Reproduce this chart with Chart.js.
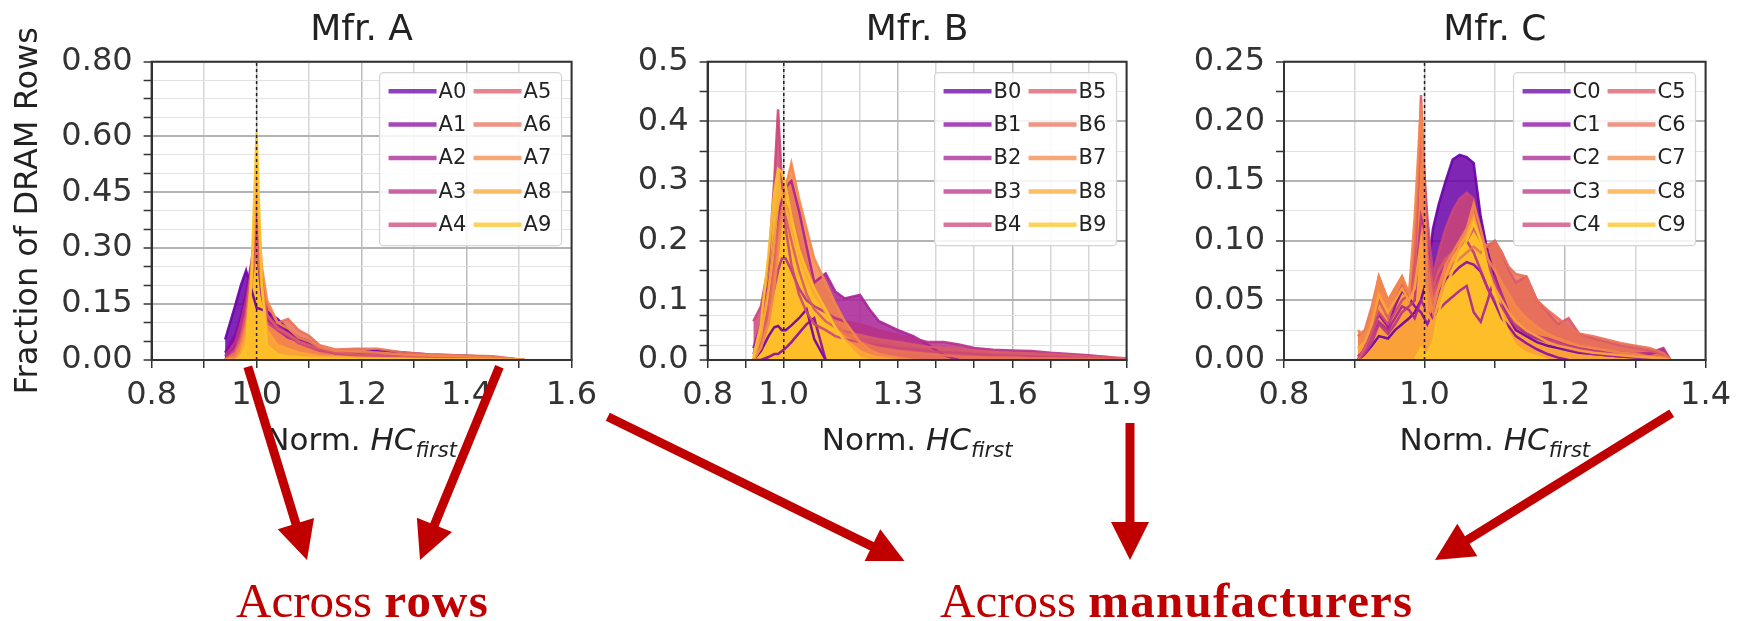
<!DOCTYPE html>
<html>
<head>
<meta charset="utf-8">
<title>Norm. HC_first distributions</title>
<script src="https://cdn.jsdelivr.net/npm/chart.js@4.4.1/dist/chart.umd.min.js"></script>
<style>
  body { margin: 0; background: #fff; }
  #wrap { position: relative; width: 1739px; height: 621px; overflow: hidden; background: #fff; }
  #wrap canvas { position: absolute; top: 0; }
  #arrows { position: absolute; left: 0; top: 0; }
  .note { position: absolute; top: 576px; font-family: "Liberation Serif", serif; font-size: 49px; line-height: 49px; color: #c00000; white-space: nowrap; }
  .note b { font-weight: bold; letter-spacing: 1.2px; }
</style>
</head>
<body>
<div id="wrap">
  <canvas id="mfrA" width="605" height="470" style="left:0px"></canvas>
  <canvas id="mfrB" width="600" height="470" style="left:560px"></canvas>
  <canvas id="mfrC" width="599" height="470" style="left:1140px"></canvas>
  <svg id="arrows" width="1739" height="621"></svg>
  <div class="note" style="left:236px">Across <b>rows</b></div>
  <div class="note" style="left:940px">Across <b>manufacturers</b></div>
</div>
<script>
// plasma colours, one per module (0 = darkest)
const seriesColors = ['#6a00a8', '#8b0aa5', '#a82296', '#b93289', '#cc4778',
                      '#da5b69', '#e97158', '#f48849', '#fca636', '#fdc328'];

// ---- Mfr. A ----
const xA = [0.94, 0.96, 0.97, 0.98, 0.99, 1.00, 1.01, 1.02, 1.04, 1.06, 1.08,
            1.10, 1.12, 1.15, 1.19, 1.23, 1.28, 1.33, 1.39, 1.45, 1.51];
const mfrA = [
  [0.055, 0.15, 0.20, 0.24, 0.19, 0.14, 0.135, 0.13, 0.11, 0.08, 0.06, 0.05, 0.03, 0.02, 0.018, 0.025, 0.02, 0.015, 0.012, 0.008, 0],
  [0.02, 0.07, 0.12, 0.18, 0.26, 0.37, 0.2, 0.13, 0.095, 0.075, 0.055, 0.045, 0.035, 0.022, 0.016, 0.02, 0.014, 0.012, 0.01, 0.006, 0],
  [0, 0.04, 0.08, 0.14, 0.22, 0.3, 0.17, 0.11, 0.08, 0.06, 0.05, 0.04, 0.028, 0.018, 0.015, 0.016, 0.012, 0.01, 0.008, 0.005, 0],
  [0.01, 0.05, 0.1, 0.16, 0.24, 0.33, 0.19, 0.12, 0.09, 0.07, 0.05, 0.04, 0.03, 0.02, 0.014, 0.014, 0.012, 0.008, 0.006, 0.004, 0],
  [0, 0.03, 0.07, 0.13, 0.22, 0.35, 0.18, 0.1, 0.08, 0.065, 0.045, 0.035, 0.025, 0.018, 0.012, 0.012, 0.01, 0.008, 0.005, 0.003, 0],
  [0, 0.02, 0.06, 0.12, 0.25, 0.38, 0.22, 0.12, 0.085, 0.07, 0.05, 0.04, 0.03, 0.02, 0.015, 0.014, 0.011, 0.008, 0.006, 0.004, 0],
  [0, 0.02, 0.05, 0.1, 0.2, 0.3, 0.2, 0.15, 0.1, 0.11, 0.08, 0.065, 0.04, 0.028, 0.03, 0.03, 0.02, 0.015, 0.012, 0.01, 0],
  [0, 0.01, 0.04, 0.09, 0.22, 0.45, 0.25, 0.16, 0.1, 0.085, 0.06, 0.05, 0.035, 0.025, 0.022, 0.02, 0.015, 0.012, 0.01, 0.006, 0],
  [0, 0, 0.02, 0.07, 0.2, 0.52, 0.2, 0.08, 0.04, 0.03, 0.02, 0.015, 0.01, 0.008, 0.006, 0.005, 0.004, 0.003, 0.002, 0.001, 0],
  [0, 0, 0.01, 0.04, 0.22, 0.61, 0.2, 0.04, 0.015, 0.01, 0.008, 0.006, 0.005, 0.004, 0.003, 0.002, 0.002, 0.001, 0.001, 0, 0]
];
const xMajorA = [0.8, 1.0, 1.2, 1.4, 1.6];
const xMinorA = [0.9, 1.1, 1.3, 1.5];
const yMajorA = [0, 0.15, 0.3, 0.45, 0.6, 0.8];
const yMinorA = [0.05, 0.1, 0.2, 0.25, 0.35, 0.4, 0.5, 0.55, 0.65, 0.7, 0.75];

// ---- Mfr. B ----
const xB = [0.92, 0.94, 0.96, 0.975, 0.985, 0.995, 1.005, 1.02, 1.04, 1.06, 1.08,
            1.11, 1.135, 1.16, 1.2, 1.225, 1.25, 1.3, 1.34, 1.38, 1.42, 1.46,
            1.5, 1.55, 1.6, 1.65, 1.7, 1.75, 1.8, 1.85, 1.9];
const mfrB = [
  [0, 0.015, 0.04, 0.055, 0.057, 0.05, 0.05, 0.058, 0.07, 0.085, 0.035, 0],
  [0, 0, 0.005, 0.01, 0.01, 0.015, 0.02, 0.03, 0.045, 0.06, 0.07, 0],
  [0.02, 0.06, 0.13, 0.2, 0.24, 0.27, 0.29, 0.3, 0.25, 0.19, 0.13, 0.145, 0.115, 0.103, 0.109, 0.085, 0.065, 0.05, 0.04, 0.025, 0.008, 0],
  [0.01, 0.04, 0.08, 0.12, 0.15, 0.17, 0.17, 0.15, 0.12, 0.1, 0.09, 0.08, 0.07, 0.065, 0.06, 0.055, 0.05, 0.042, 0.036, 0.03, 0.03, 0.026, 0.02, 0.017, 0.016, 0.015, 0.012, 0.01, 0.008, 0.005, 0],
  [0.065, 0.09, 0.16, 0.3, 0.42, 0.3, 0.22, 0.16, 0.11, 0.08, 0.06, 0.05, 0.04, 0.035, 0.03, 0.027, 0.025, 0.02, 0.018, 0.015, 0.013, 0.012, 0.01, 0.008, 0.007, 0.006, 0.005, 0.004, 0.003, 0.002, 0],
  [0, 0.03, 0.09, 0.16, 0.22, 0.25, 0.24, 0.2, 0.15, 0.11, 0.085, 0.065, 0.055, 0.048, 0.042, 0.038, 0.035, 0.03, 0.026, 0.022, 0.02, 0.018, 0.016, 0.014, 0.012, 0.011, 0.01, 0.008, 0.006, 0.005, 0.003],
  [0, 0.02, 0.07, 0.14, 0.2, 0.24, 0.26, 0.24, 0.2, 0.16, 0.12, 0.085, 0.06, 0.045, 0.03, 0.025, 0.02, 0.015, 0.012, 0.01, 0.008, 0.006, 0.005, 0.004, 0.004, 0.003, 0.003, 0.002, 0.002, 0.001, 0],
  [0, 0.02, 0.06, 0.12, 0.18, 0.24, 0.29, 0.33, 0.27, 0.22, 0.17, 0.13, 0.095, 0.065, 0.03, 0.018, 0.01, 0.004, 0],
  [0, 0.04, 0.12, 0.2, 0.26, 0.28, 0.26, 0.22, 0.18, 0.14, 0.11, 0.08, 0.055, 0.035, 0.015, 0.008, 0.004, 0],
  [0.005, 0.06, 0.18, 0.28, 0.32, 0.315, 0.29, 0.24, 0.185, 0.15, 0.12, 0.085, 0.055, 0.03, 0.003, 0]
];
const xMajorB = [0.8, 1.0, 1.3, 1.6, 1.9];
const xMinorB = [0.9, 1.1, 1.2, 1.4, 1.5, 1.7, 1.8];
const yMajorB = [0, 0.1, 0.2, 0.3, 0.4, 0.5];
const yMinorB = [0.025, 0.05, 0.075, 0.15, 0.25, 0.35, 0.45];

// ---- Mfr. C ----
const xC = [0.905, 0.915, 0.925, 0.935, 0.948, 0.958, 0.968, 0.978, 0.986, 0.995,
            1.004, 1.012, 1.02, 1.03, 1.04, 1.05, 1.06, 1.07, 1.08, 1.09, 1.1,
            1.11, 1.12, 1.13, 1.145, 1.16, 1.175, 1.19, 1.205, 1.22, 1.24, 1.26,
            1.28, 1.3, 1.32, 1.34, 1.35];
const mfrC = [
  [0, 0.005, 0.012, 0.02, 0.018, 0.025, 0.03, 0.035, 0.04, 0.05, 0.07, 0.11, 0.13, 0.15, 0.168, 0.172, 0.17, 0.165, 0.12, 0.09, 0.07, 0.05, 0.035, 0.025, 0.02, 0.015, 0.012, 0.01, 0.008, 0.006, 0.005, 0.004, 0.003, 0.002, 0.002, 0.001, 0],
  [0, 0.01, 0.025, 0.038, 0.028, 0.045, 0.058, 0.052, 0.045, 0.04, 0.03, 0.04, 0.055, 0.068, 0.072, 0.078, 0.082, 0.08, 0.074, 0.06, 0.048, 0.035, 0.028, 0.02, 0.014, 0.009, 0.005, 0.002, 0],
  [0.003, 0.008, 0.02, 0.032, 0.025, 0.035, 0.045, 0.042, 0.035, 0.05, 0.04, 0.035, 0.042, 0.048, 0.053, 0.058, 0.062, 0.04, 0.032, 0.05, 0.07, 0.055, 0.04, 0.03, 0.022, 0.018, 0.015, 0.012, 0.009, 0.007, 0.005, 0.004, 0.003, 0.003, 0.005, 0.008, 0],
  [0, 0.005, 0.015, 0.03, 0.022, 0.03, 0.04, 0.045, 0.05, 0.12, 0.1, 0.06, 0.07, 0.08, 0.09, 0.095, 0.1, 0.09, 0.075, 0.06, 0.05, 0.045, 0.035, 0.028, 0.022, 0.02, 0.018, 0.015, 0.012, 0.01, 0.008, 0.007, 0.006, 0.005, 0.006, 0.01, 0],
  [0, 0.008, 0.02, 0.04, 0.03, 0.04, 0.05, 0.055, 0.08, 0.2, 0.12, 0.07, 0.09, 0.11, 0.125, 0.135, 0.14, 0.135, 0.1, 0.08, 0.065, 0.05, 0.04, 0.03, 0.025, 0.02, 0.017, 0.014, 0.011, 0.009, 0.007, 0.005, 0.004, 0.003, 0.002, 0.001, 0],
  [0, 0.01, 0.025, 0.05, 0.035, 0.05, 0.062, 0.05, 0.07, 0.222, 0.09, 0.06, 0.075, 0.085, 0.09, 0.095, 0.1, 0.11, 0.1, 0.095, 0.1, 0.09, 0.075, 0.065, 0.07, 0.05, 0.04, 0.03, 0.035, 0.022, 0.018, 0.015, 0.012, 0.01, 0.008, 0.005, 0],
  [0.02, 0.025, 0.045, 0.07, 0.05, 0.06, 0.07, 0.055, 0.1, 0.2, 0.08, 0.05, 0.06, 0.07, 0.08, 0.085, 0.09, 0.095, 0.09, 0.097, 0.099, 0.09, 0.078, 0.072, 0.07, 0.05, 0.042, 0.035, 0.028, 0.022, 0.02, 0.017, 0.014, 0.012, 0.01, 0.006, 0],
  [0.025, 0.02, 0.04, 0.07, 0.05, 0.06, 0.07, 0.056, 0.12, 0.215, 0.06, 0.04, 0.06, 0.08, 0.09, 0.1, 0.11, 0.131, 0.11, 0.085, 0.075, 0.065, 0.055, 0.045, 0.035, 0.028, 0.022, 0.018, 0.015, 0.012, 0.01, 0.008, 0.006, 0.005, 0.003, 0.002, 0],
  [0.01, 0.015, 0.03, 0.055, 0.04, 0.05, 0.06, 0.05, 0.06, 0.1, 0.04, 0.03, 0.05, 0.07, 0.085, 0.095, 0.105, 0.12, 0.1, 0.075, 0.06, 0.05, 0.04, 0.032, 0.025, 0.02, 0.015, 0.012, 0.01, 0.008, 0.006, 0.005, 0.004, 0.003, 0.002, 0.001, 0],
  [0, 0, 0, 0, 0, 0, 0, 0, 0, 0.01, 0.005, 0.015, 0.04, 0.06, 0.075, 0.09, 0.1, 0.115, 0.1, 0.075, 0.055, 0.038, 0.022, 0.012, 0.006, 0.003, 0]
];
const xMajorC = [0.8, 1.0, 1.2, 1.4];
const xMinorC = [0.9, 1.1, 1.3];
const yMajorC = [0, 0.05, 0.1, 0.15, 0.2, 0.25];
const yMinorC = [0.025, 0.075, 0.125, 0.175, 0.225];

// arrow shafts: start x, start y, tip x, tip y (page pixels)
const arrowPaths = [
  [247.8, 366.7, 307, 560],
  [499.4, 366.7, 420, 560],
  [607.8, 416.7, 906, 563],
  [1130, 423, 1130, 560],
  [1671.7, 413.3, 1435, 560]
];

Chart.defaults.font.family = '"DejaVu Sans", sans-serif';
Chart.defaults.color = '#333';

function rgba(hex, a) {
  const n = parseInt(hex.slice(1), 16);
  return 'rgba(' + (n >> 16) + ',' + ((n >> 8) & 255) + ',' + (n & 255) + ',' + a + ')';
}

// axes frame, two-column legend and the x label with italic subscript
const framePlugin = {
  id: 'frameAndLegend',
  afterDraw(chart) {
    const ctx = chart.ctx;
    const a = chart.chartArea;
    ctx.save();
    ctx.strokeStyle = '#333';
    ctx.lineWidth = 2;
    ctx.strokeRect(a.left, a.top, a.right - a.left, a.bottom - a.top);

    const bw = 182, bh = 173;
    const bx = a.right - 10 - bw, by = a.top + 11;
    ctx.beginPath();
    ctx.roundRect(bx, by, bw, bh, 4);
    ctx.fillStyle = 'rgba(255,255,255,0.85)';
    ctx.fill();
    ctx.strokeStyle = '#d4d4d4';
    ctx.lineWidth = 1.2;
    ctx.stroke();
    ctx.font = '21px "DejaVu Sans"';
    ctx.textBaseline = 'middle';
    ctx.textAlign = 'left';
    chart.data.datasets.forEach(function (ds, i) {
      if (ds.guide) return;
      const col = Math.floor(i / 5), row = i % 5;
      const x0 = bx + 9 + col * 85, y0 = by + 18.5 + row * 33.4;
      ctx.strokeStyle = rgba(seriesColors[i], 0.75);
      ctx.lineWidth = 4.5;
      ctx.beginPath();
      ctx.moveTo(x0, y0);
      ctx.lineTo(x0 + 48, y0);
      ctx.stroke();
      ctx.fillStyle = '#222';
      ctx.fillText(ds.label, x0 + 50, y0 + 1);
    });

    // "Norm. HC_first"
    const f1 = '31px "DejaVu Sans"', f2 = 'italic 31px "DejaVu Sans"', f3 = 'italic 21px "DejaVu Sans"';
    ctx.textBaseline = 'alphabetic';
    ctx.font = f1; const w1 = ctx.measureText('Norm. ').width;
    ctx.font = f2; const w2 = ctx.measureText('HC').width;
    ctx.font = f3; const w3 = ctx.measureText('first').width;
    let x = (a.left + a.right) / 2 - (w1 + w2 + w3) / 2;
    ctx.fillStyle = '#222';
    ctx.font = f1; ctx.fillText('Norm. ', x, 450); x += w1;
    ctx.font = f2; ctx.fillText('HC', x, 450); x += w2;
    ctx.font = f3; ctx.fillText('first', x, 457);
    ctx.restore();
  }
};

function makePanel(opts) {
  const xTicks = opts.xMajor.concat(opts.xMinor).sort((p, q) => p - q);
  const yTicks = opts.yMajor.concat(opts.yMinor).sort((p, q) => p - q);

  const datasets = opts.series.map(function (s, i) {
    return {
      label: opts.prefix + i,
      data: s.map((y, j) => ({ x: opts.xs[j], y: y })),
      borderColor: rgba(seriesColors[i], 0.9),
      backgroundColor: rgba(seriesColors[i], 0.85),
      borderWidth: 2.5,
      fill: 'origin',
      pointRadius: 0,
      tension: 0,
      order: 20 - i
    };
  });
  // dashed reference line at 1.0
  datasets.push({
    label: 'ref',
    guide: true,
    data: [{ x: 1, y: 0 }, { x: 1, y: opts.yMax }],
    borderColor: '#222',
    borderWidth: 1.5,
    borderDash: [3, 3],
    fill: false,
    pointRadius: 0,
    order: 0
  });

  const gridColor = (major, minor, list) => function (c) {
    if (!c.tick) return major;
    return list.includes(c.tick.value) ? major : minor;
  };

  return new Chart(document.getElementById(opts.id), {
    type: 'line',
    data: { datasets: datasets },
    plugins: [framePlugin],
    options: {
      responsive: false,
      animation: false,
      events: [],
      layout: { padding: { left: 0, right: opts.padRight, top: 0, bottom: 0 } },
      plugins: {
        legend: { display: false },
        tooltip: { enabled: false },
        filler: { drawTime: 'beforeDatasetsDraw' },
        title: {
          display: true,
          text: opts.title,
          fullSize: false,
          color: '#222',
          font: { size: 36, weight: 'normal' },
          padding: { top: 9, bottom: 9.5 }
        }
      },
      scales: {
        x: {
          type: 'linear',
          min: 0.8,
          max: opts.xMax,
          afterBuildTicks: s => { s.ticks = xTicks.map(v => ({ value: v })); },
          afterFit: s => { s.height = 110; },
          ticks: {
            autoSkip: false, maxRotation: 0, minRotation: 0,
            padding: 8, color: '#333', font: { size: 32 },
            callback: v => opts.xMajor.includes(v) ? v.toFixed(1) : ''
          },
          grid: {
            color: gridColor('#bdbdbd', '#d6d6d6', opts.xMajor),
            lineWidth: 1.5,
            tickLength: 8,
            tickColor: '#333',
            tickWidth: 1.5
          },
          border: { display: true, color: '#333', width: 2 }
        },
        y: {
          min: 0,
          max: opts.yMax,
          afterBuildTicks: s => { s.ticks = yTicks.map(v => ({ value: v })); },
          afterFit: s => { s.width = opts.yWidth; },
          ticks: {
            autoSkip: false, padding: 11, color: '#333', font: { size: 32 },
            callback: v => opts.yMajor.includes(v) ? v.toFixed(opts.yDigits) : ''
          },
          grid: {
            color: gridColor('#b4b4b4', '#e2e2e2', opts.yMajor),
            lineWidth: c => (c.tick && opts.yMajor.includes(c.tick.value)) ? 2 : 1,
            tickLength: 8,
            tickColor: '#333',
            tickWidth: 1.5
          },
          border: { display: true, color: '#333', width: 2 },
          title: {
            display: !!opts.yTitle,
            text: opts.yTitle || '',
            color: '#222',
            font: { size: 32 },
            padding: { top: 9, bottom: 0 }
          }
        }
      }
    }
  });
}

makePanel({ id: 'mfrA', title: 'Mfr. A', prefix: 'A', xs: xA, series: mfrA, xMax: 1.6,
  xMajor: xMajorA, xMinor: xMinorA, yMax: 0.8, yMajor: yMajorA, yMinor: yMinorA,
  yDigits: 2, yWidth: 151.6, padRight: 30, yTitle: 'Fraction of DRAM Rows' });
makePanel({ id: 'mfrB', title: 'Mfr. B', prefix: 'B', xs: xB, series: mfrB, xMax: 1.9,
  xMajor: xMajorB, xMinor: xMinorB, yMax: 0.5, yMajor: yMajorB, yMinor: yMinorB,
  yDigits: 1, yWidth: 147.6, padRight: 26.2 });
makePanel({ id: 'mfrC', title: 'Mfr. C', prefix: 'C', xs: xC, series: mfrC, xMax: 1.4,
  xMajor: xMajorC, xMinor: xMinorC, yMax: 0.25, yMajor: yMajorC, yMinor: yMinorC,
  yDigits: 2, yWidth: 144, padRight: 26 });

// red call-out arrows
(function () {
  const svg = document.getElementById('arrows');
  const HEAD_LEN = 38, HEAD_W = 38, SHAFT = 9;
  let inner = '<defs><clipPath id="cut"><rect x="0" y="0" width="1739" height="561"/></clipPath></defs><g clip-path="url(#cut)">';
  arrowPaths.forEach(function (p) {
    const [x1, y1, x2, y2] = p;
    const len = Math.hypot(x2 - x1, y2 - y1);
    const ux = (x2 - x1) / len, uy = (y2 - y1) / len;
    const bx = x2 - ux * HEAD_LEN, by = y2 - uy * HEAD_LEN;
    const px = -uy * HEAD_W / 2, py = ux * HEAD_W / 2;
    inner += '<line x1="' + x1 + '" y1="' + y1 + '" x2="' + (bx + ux * 2) + '" y2="' + (by + uy * 2) +
      '" stroke="#c00000" stroke-width="' + SHAFT + '"/>';
    inner += '<polygon fill="#c00000" points="' + x2 + ',' + y2 + ' ' + (bx + px) + ',' + (by + py) + ' ' +
      (bx - px) + ',' + (by - py) + '"/>';
  });
  inner += '</g>';
  svg.setAttributeNS(null, 'viewBox', '0 0 1739 621');
  svg.innerHTML = inner;
})();
</script>
</body>
</html>
